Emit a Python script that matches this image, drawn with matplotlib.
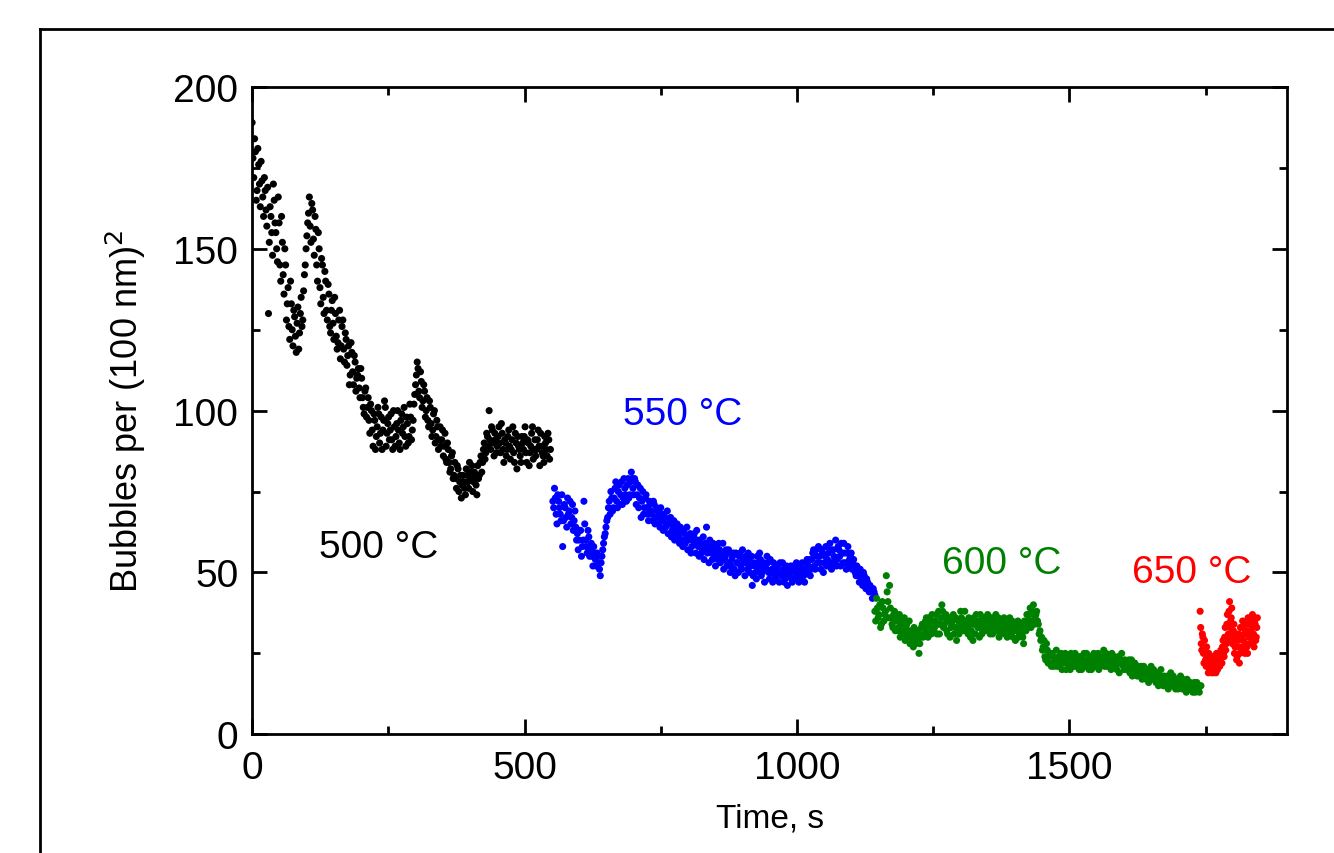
import matplotlib
matplotlib.use("Agg")
import matplotlib.pyplot as plt
import numpy as np
from matplotlib.lines import Line2D
from matplotlib.ticker import MultipleLocator

plt.rcParams['font.family'] = ['Liberation Sans', 'DejaVu Sans']

# 500 °C, read every 3 s from t = 0, plus the readings in between
black_start, black_step = 0, 3
black_y = [189, 172, 180, 168, 176, 163, 171, 160, 168, 157, 130, 163, 155, 170, 158, 150,
           166, 145, 160, 142, 150, 128, 138, 122, 133, 120, 129, 118, 132, 124, 135, 128,
           142, 150, 158, 166, 152, 162, 148, 156, 140, 150, 133, 145, 130, 140, 128, 136,
           124, 134, 122, 130, 119, 128, 116, 126, 119, 124, 114, 120, 111, 118, 108, 115,
           110, 113, 104, 110, 101, 106, 98, 104, 93, 100, 89, 97, 92, 101, 90, 98,
           94, 103, 89, 96, 91, 99, 88, 95, 92, 100, 90, 97, 93, 101, 89, 96,
           92, 98, 94, 102, 108, 115, 106, 112, 101, 108, 98, 104, 95, 101, 92, 99,
           90, 97, 88, 95, 91, 86, 93, 84, 88, 81, 86, 79, 84, 76, 82, 78,
           73, 80, 76, 82, 78, 84, 79, 75, 81, 77, 83, 80, 86, 84, 90, 87,
           92, 100, 88, 94, 86, 91, 89, 95, 87, 93, 84, 90, 88, 94, 85, 91,
           87, 93, 82, 89, 86, 92, 88, 95, 84, 90, 87, 93, 85, 91, 88, 94,
           83, 89, 86, 92, 88, 93, 85]
black_y_mid = [178, 184, 165, 181, 170, 177, 166, 172, 162, 169, 152, 160, 148, 165, 155, 146,
               158, 140, 152, 136, 145, 133, 126, 140, 125, 131, 123, 127, 119, 130, 126, 137,
               145, 154, 161, 157, 164, 153, 160, 145, 155, 138, 147, 135, 143, 131, 139, 126,
               131, 127, 135, 123, 121, 131, 120, 128, 115, 122, 117, 108, 121, 112, 117, 106,
               111, 107, 113, 104, 99, 107, 101, 97, 102, 94, 99, 88, 95, 99, 93, 88,
               97, 101, 93, 98, 94, 91, 100, 89, 96, 94, 88, 99, 95, 92, 98, 90,
               102, 91, 97, 105, 111, 113, 104, 109, 103, 106, 100, 97, 103, 96, 94, 100,
               92, 95, 91, 89, 94, 89, 85, 90, 84, 82, 87, 80, 79, 83, 75, 80,
               77, 78, 74, 80, 76, 81, 83, 78, 80, 74, 79, 84, 81, 88, 85, 93,
               89, 91, 95, 90, 93, 87, 92, 90, 96, 88, 91, 86, 92, 89, 88, 95,
               84, 90, 92, 88, 84, 90, 92, 87, 91, 83, 89, 95, 88, 86, 91, 89,
               93, 87, 84, 90, 86, 91, 88]

# 550 °C, every 3 s from t = 552
blue_start, blue_step = 552, 3
blue_y = [72, 76, 68, 74, 70, 66, 58, 71, 67, 73, 69, 65, 71, 66, 64, 62,
          60, 63, 58, 72, 60, 56, 61, 57, 55, 58, 54, 56, 53, 49, 55, 59,
          62, 66, 70, 68, 73, 70, 76, 72, 75, 71, 78, 73, 76, 72, 79, 74,
          81, 76, 79, 71, 77, 73, 67, 75, 70, 74, 68, 72, 69, 66, 71, 67,
          69, 65, 70, 66, 68, 64, 69, 65, 67, 63, 66, 62, 65, 61, 64, 60,
          63, 59, 64, 60, 62, 58, 61, 59, 63, 58, 60, 56, 61, 58, 64, 57,
          60, 56, 59, 55, 58, 54, 57, 55, 59, 54, 57, 53, 56, 52, 55, 51,
          56, 53, 55, 52, 57, 53, 55, 51, 54, 52, 46, 53, 50, 55, 51, 54,
          50, 53, 52, 55, 50, 54, 51, 53, 49, 52, 50, 53, 49, 51, 48, 52,
          49, 51, 48, 52, 50, 53, 49, 52, 48, 51, 47, 53, 50, 54, 51, 56,
          52, 57, 53, 55, 51, 56, 53, 58, 54, 52, 57, 53, 55, 60, 54, 57,
          52, 56, 59, 53, 56, 52, 55, 51, 54, 50, 52, 49, 51, 48, 50, 47,
          48, 45, 46, 44, 45, 43]
blue_y_mid = [70, 73, 65, 72, 68, 74, 66, 70, 64, 68, 72, 67, 63, 69, 60, 57,
              63, 55, 60, 65, 58, 63, 55, 59, 52, 56, 52, 55, 51, 53, 57, 61,
              64, 67, 72, 75, 69, 73, 78, 70, 77, 74, 71, 79, 74, 77, 73, 78,
              79, 74, 78, 74, 70, 76, 72, 68, 73, 70, 66, 71, 68, 72, 65, 70,
              67, 64, 68, 63, 67, 65, 62, 66, 61, 64, 60, 64, 62, 59, 63, 58,
              62, 60, 57, 61, 56, 60, 62, 56, 60, 55, 59, 57, 54, 59, 56, 53,
              58, 54, 57, 52, 56, 59, 53, 56, 51, 55, 52, 57, 50, 54, 56, 49,
              53, 50, 56, 51, 54, 49, 53, 56, 50, 55, 49, 52, 48, 53, 56, 49,
              52, 47, 51, 53, 48, 50, 47, 51, 48, 52, 47, 50, 53, 47, 50, 46,
              49, 52, 47, 50, 48, 51, 47, 50, 53, 49, 51, 54, 52, 49, 54, 57,
              51, 55, 58, 53, 57, 50, 55, 52, 56, 59, 51, 57, 54, 52, 58, 55,
              59, 53, 56, 51, 58, 54, 56, 53, 52, 49, 51, 47, 50, 46, 49, 45,
              47, 44, 45, 42, 44]

# 600 °C, every 3 s from t = 1143
green_start, green_step = 1143, 3
green_y = [38, 42, 36, 40, 34, 39, 37, 49, 41, 46, 36, 33, 38, 35, 32, 37,
           34, 31, 36, 33, 30, 35, 32, 29, 33, 28, 31, 25, 30, 34, 31, 35,
           32, 36, 33, 37, 32, 35, 31, 38, 34, 40, 33, 36, 32, 35, 30, 34,
           37, 33, 29, 35, 32, 36, 33, 38, 34, 31, 35, 32, 29, 34, 37, 33,
           30, 35, 32, 36, 33, 37, 32, 35, 31, 34, 37, 33, 30, 35, 32, 36,
           33, 30, 34, 31, 35, 32, 29, 33, 30, 34, 31, 28, 33, 37, 34, 39,
           35, 40, 36, 38, 34, 32, 30, 27, 24, 28, 22, 25, 21, 24, 22, 26,
           23, 21, 25, 22, 24, 20, 23, 21, 25, 22, 24, 21, 23, 20, 24, 22,
           25, 21, 23, 20, 24, 22, 25, 21, 23, 20, 24, 22, 26, 23, 21, 24,
           22, 25, 21, 23, 20, 24, 22, 25, 21, 23, 20, 22, 19, 23, 21, 22,
           19, 21, 18, 21, 19, 20, 17, 20, 18, 21, 17, 19, 16, 19, 17, 20,
           16, 18, 15, 18, 16, 19, 15, 17, 14, 17, 15, 18, 14, 16, 14, 17,
           15, 16, 14, 15, 13, 16, 14, 15]
green_y_mid = [35, 39, 37, 33, 41, 35, 38, 44, 36, 39, 34, 37, 32, 36, 33, 30,
               35, 32, 29, 34, 31, 28, 30, 27, 31, 29, 32, 28, 33, 30, 33, 36,
               30, 34, 31, 35, 33, 37, 34, 31, 36, 38, 34, 37, 31, 36, 33, 35,
               31, 36, 33, 31, 38, 34, 32, 35, 33, 36, 30, 34, 36, 31, 35, 33,
               37, 31, 34, 32, 35, 34, 31, 36, 33, 32, 35, 36, 31, 34, 33, 31,
               35, 32, 36, 33, 30, 34, 32, 35, 31, 33, 30, 35, 32, 35, 37, 33,
               38, 34, 37, 35, 31, 29, 26, 29, 23, 26, 24, 22, 25, 21, 23, 21,
               24, 22, 20, 23, 25, 22, 24, 20, 23, 21, 25, 22, 24, 21, 20, 23,
               22, 25, 21, 23, 20, 22, 24, 22, 25, 21, 23, 24, 21, 25, 22, 23,
               20, 23, 24, 21, 22, 19, 23, 22, 20, 22, 21, 23, 20, 18, 22, 20,
               18, 20, 19, 17, 21, 18, 19, 16, 19, 18, 20, 17, 18, 15, 18, 17,
               15, 17, 16, 14, 17, 16, 18, 15, 16, 14, 16, 15, 17, 15, 13, 16,
               14, 15, 13, 16, 14, 15, 13, 15]

# 650 °C, every 2 s from t = 1740
red_start, red_step = 1740, 2
red_y = [38, 28, 31, 25, 29, 23, 27, 21, 25, 20, 24, 22, 19, 23, 21, 25,
         20, 23, 21, 26, 22, 29, 24, 33, 28, 37, 31, 41, 35, 39, 30, 34,
         27, 31, 24, 29, 22, 33, 27, 35, 29, 25, 32, 27, 36, 30, 34, 28,
         37, 31, 35, 29, 33]
red_y_mid = [33, 26, 30, 22, 26, 21, 24, 19, 23, 21, 19, 24, 20, 22, 19, 23,
             21, 25, 22, 24, 27, 25, 30, 26, 34, 29, 38, 33, 36, 28, 32, 25,
             29, 23, 27, 31, 25, 30, 33, 26, 31, 28, 34, 25, 32, 28, 36, 30,
             33, 27, 34, 30, 36]

series = [
    (black_start, black_step, black_y, black_y_mid, "black"),
    (blue_start, blue_step, blue_y, blue_y_mid, "#0000ff"),
    (green_start, green_step, green_y, green_y_mid, "#008000"),
    (red_start, red_step, red_y, red_y_mid, "#ff0000"),
]

labels = ["500 °C", "550 °C", "600 °C", "650 °C"]
label_x = [232, 790, 1375, 1724]
label_y = [58, 99, 53, 50]

fig = plt.figure(figsize=(13.34, 8.54), dpi=100)
ax = fig.add_axes([0.189, 0.139, 0.776, 0.758])

for start, step, y, y_mid, color in series:
    t = start + step * np.arange(len(y))
    t_mid = start + step / 2 + step * np.arange(len(y_mid))
    ax.scatter(t, y, s=26, color=color, edgecolors="none")
    ax.scatter(t_mid, y_mid, s=26, color=color, edgecolors="none")

for text, x, y, s in zip(labels, label_x, label_y, series):
    ax.text(x, y, text, color=s[4], fontsize=28, ha="center", va="center")

ax.set_xlim(0, 1900)
ax.set_ylim(0, 200)
ax.xaxis.set_major_locator(MultipleLocator(500))
ax.xaxis.set_minor_locator(MultipleLocator(250))
ax.yaxis.set_major_locator(MultipleLocator(50))
ax.yaxis.set_minor_locator(MultipleLocator(25))
ax.tick_params(which="both", direction="in", top=True, right=True, width=2, labelsize=28)
ax.tick_params(which="major", length=11)
ax.tick_params(which="minor", length=6)
ax.tick_params(axis="x", pad=11)
ax.tick_params(axis="y", pad=10)
for spine in ax.spines.values():
    spine.set_linewidth(2)

ax.set_xlabel("Time, s", fontsize=24, labelpad=12)
ax.set_ylabel("Bubbles per (100 nm)$^2$", fontsize=26, labelpad=18)

# outer frame, only the left and top edges are visible in the crop
fig.add_artist(Line2D([40 / 1334, 40 / 1334], [0, 1 - 30 / 854], color="black", lw=2))
fig.add_artist(Line2D([40 / 1334, 1], [1 - 30 / 854, 1 - 30 / 854], color="black", lw=2))

fig.savefig("out.png", dpi=100)
